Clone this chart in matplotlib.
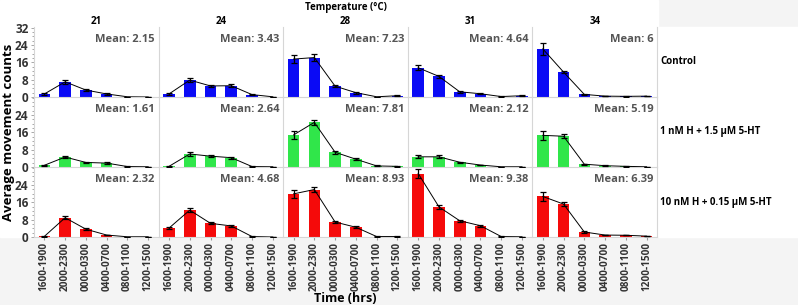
import matplotlib
matplotlib.use("Agg")
import matplotlib.pyplot as plt
import numpy as np
from matplotlib.patches import Rectangle

plt.rcParams['font.family'] = ['Open Sans', 'DejaVu Sans']

times = ["1600-1900", "2000-2300", "0000-0300", "0400-0700", "0800-1100", "1200-1500"]
temps = ["21", "24", "28", "31", "34"]
groups = ["Control", "1 nM H + 1.5 µM 5-HT", "10 nM H + 0.15 µM 5-HT"]
colors = ["#0a0af5", "#30e64a", "#f50a0a"]

# mean counts, one list per temperature
control = [[1.4, 7.0, 3.2, 1.4, 0.1, 0.0],
           [1.4, 7.8, 5.1, 5.2, 1.1, 0.1],
           [17.5, 18.2, 5.0, 2.0, 0.1, 0.6],
           [13.5, 9.5, 2.4, 1.5, 0.2, 0.6],
           [22.2, 11.5, 1.2, 0.4, 0.3, 0.4]]
low_dose = [[0.8, 4.6, 2.1, 1.8, 0.2, 0.1],
            [0.3, 6.0, 5.0, 4.3, 0.2, 0.1],
            [14.8, 20.6, 6.8, 3.6, 0.5, 0.3],
            [4.7, 4.7, 2.2, 0.9, 0.1, 0.1],
            [14.6, 14.2, 1.3, 0.6, 0.3, 0.1]]
high_dose = [[0.3, 8.9, 3.6, 0.9, 0.1, 0.1],
             [4.1, 12.4, 6.3, 5.1, 0.2, 0.0],
             [19.9, 21.9, 6.9, 4.5, 0.2, 0.2],
             [29.3, 13.9, 7.5, 5.2, 0.2, 0.1],
             [18.7, 15.2, 2.3, 0.9, 0.8, 0.4]]

control_err = [[0.3, 0.8, 0.4, 0.3, 0.1, 0.1],
               [0.3, 1.0, 0.5, 0.6, 0.3, 0.1],
               [1.8, 1.6, 0.6, 0.4, 0.1, 0.2],
               [1.2, 0.8, 0.4, 0.3, 0.1, 0.2],
               [2.8, 0.6, 0.3, 0.1, 0.1, 0.1]]
low_err = [[0.2, 0.6, 0.3, 0.3, 0.1, 0.1],
           [0.2, 1.0, 0.5, 0.5, 0.1, 0.1],
           [1.8, 1.2, 0.6, 0.4, 0.2, 0.1],
           [0.7, 0.7, 0.3, 0.2, 0.1, 0.1],
           [2.0, 0.9, 0.3, 0.2, 0.1, 0.1]]
high_err = [[0.2, 0.7, 0.4, 0.2, 0.1, 0.1],
            [0.5, 1.0, 0.5, 0.4, 0.1, 0.1],
            [2.0, 1.3, 0.6, 0.4, 0.1, 0.1],
            [2.0, 0.9, 0.5, 0.4, 0.1, 0.1],
            [2.2, 0.8, 0.3, 0.2, 0.1, 0.1]]

means = [["2.15", "3.43", "7.23", "4.64", "6"],
         ["1.61", "2.64", "7.81", "2.12", "5.19"],
         ["2.32", "4.68", "8.93", "9.38", "6.39"]]

values = [control, low_dose, high_dose]
errors = [control_err, low_err, high_err]

W, H = 798, 305
fig = plt.figure(figsize=(W / 100, H / 100), dpi=100)
fig.patch.set_facecolor("#f4f4f4")
# white backdrop behind the panels and labels
fig.patches.append(Rectangle((0, 1 - 237 / H), 658 / W, 237 / H,
                             transform=fig.transFigure, color="white", zorder=-10))
fig.patches.append(Rectangle((658 / W, 1 - 237 / H), 1 - 658 / W, 210 / H,
                             transform=fig.transFigure, color="white", zorder=-10))

left, right, top, bottom = 34, 657, 27, 237
pw = (right - left) / 5
ph = (bottom - top) / 3
grid = "#d6d6d6"
x = np.arange(len(times))

for r in range(3):
    for c in range(5):
        ax = fig.add_axes([(left + c * pw) / W, 1 - (top + (r + 1) * ph) / H, pw / W, ph / H])
        ax.set_facecolor("none")
        v = values[r][c]
        e = errors[r][c]
        ax.bar(x, v, width=0.56, color=colors[r], zorder=2)
        ax.plot(x, v, color="black", lw=0.7, zorder=3)
        ax.errorbar(x, v, yerr=e, fmt="none", ecolor="black", elinewidth=0.9,
                    capsize=2.3, capthick=0.9, zorder=4)
        ax.text(0.97, 0.82, "Mean: " + means[r][c], transform=ax.transAxes,
                ha="right", va="center", fontsize=8, fontweight="bold", color="#555555")
        ax.set_xlim(-0.5, 5.5)
        ax.set_ylim(0, 32.3)
        for s in ["top", "right"]:
            ax.spines[s].set_visible(False)
        if c == 4:
            ax.spines["right"].set_visible(True)
        for s in ["left", "right", "bottom"]:
            ax.spines[s].set_color(grid)
            ax.spines[s].set_linewidth(0.8)
        if r == 0:
            ax.set_yticks([0, 8, 16, 24, 32])
        else:
            ax.set_yticks([0, 8, 16, 24])
        ax.set_yticks(np.arange(0, 33, 2), minor=True)
        ax.tick_params(axis="y", which="both", colors="#999999", labelcolor="#333333",
                       labelsize=8.5, length=2, width=0.6, pad=2)
        ax.tick_params(axis="y", which="minor", length=1.5)
        if c == 0:
            for lab in ax.get_yticklabels():
                lab.set_fontweight("bold")
        else:
            ax.tick_params(axis="y", which="both", left=False, labelleft=False)
        ax.set_xticks(x)
        if r == 2:
            ax.set_xticklabels(times, rotation=90, fontsize=7.2, fontweight="bold", color="#333333")
            ax.tick_params(axis="x", length=2, color="#999999", pad=1.5)
        else:
            ax.set_xticklabels([])
            ax.tick_params(axis="x", length=0)
        if r == 0:
            ax.set_title(temps[c], fontsize=7, fontweight="bold", pad=2)
    fig.text(660 / W, 1 - (top + (r + 0.5) * ph) / H, groups[r], ha="left", va="center",
             fontsize=7, fontweight="bold")

fig.text((left + right) / 2 / W, 1 - 7 / H, "Temperature (°C)", ha="center", va="center",
         fontsize=7, fontweight="bold")
fig.text((left + right) / 2 / W, 1 - 298 / H, "Time (hrs)", ha="center", va="center",
         fontsize=9, fontweight="bold")
fig.text(9 / W, 1 - 132 / H, "Average movement counts", ha="center", va="center",
         rotation=90, fontsize=9.5, fontweight="bold")

fig.savefig("out.png", dpi=100, facecolor=fig.get_facecolor())
